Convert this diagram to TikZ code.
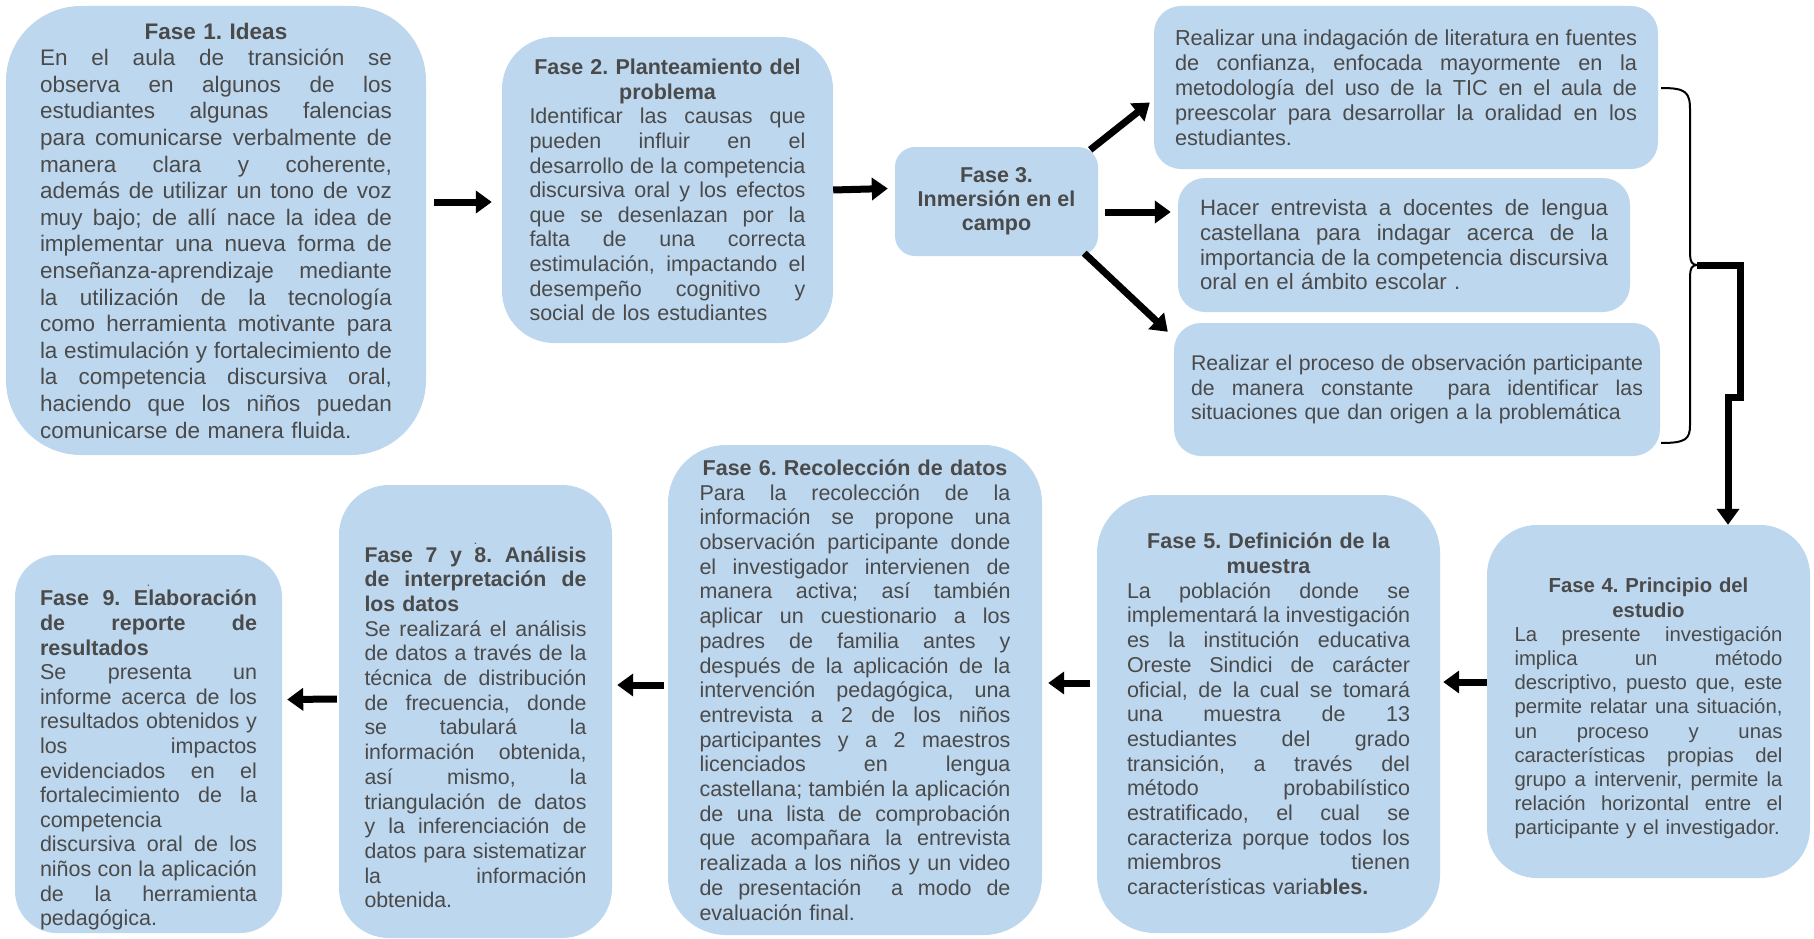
\documentclass[tikz,border=0pt]{standalone}
\usepackage{fontspec}
\setmainfont{Liberation Sans}
\usetikzlibrary{arrows.meta,calc}
\frenchspacing

\definecolor{azulfase}{HTML}{BDD7EE}
\definecolor{grisfase}{HTML}{4A4A4A}

% one justified line, one centred bold line
\newcommand{\renglon}[1]{\makebox[\linewidth][s]{\spaceskip=0.278em plus 1fil\relax #1}\\}
\newcommand{\titulo}[1]{\makebox[\linewidth]{\bfseries #1}\\}

\tikzset{
  fase/.style={fill=azulfase, text=grisfase, rounded corners=#1, inner sep=0pt,
    align=left, font=\fontsize{21.5}{24.7}\selectfont},
  fase/.default=48pt,
  flecha/.style={line width=7pt, -{Triangle[width=22pt,length=16pt]}},
  corchete/.style={line width=2pt},
}

\begin{document}
\begin{tikzpicture}[x=1pt,y=-1pt]
\useasboundingbox (0,0) rectangle (1814,939);

% Upper row
\node[fase=75pt, minimum width=420pt, minimum height=449pt, text width=352pt,
  font=\fontsize{22.5}{26.6}\selectfont] (f1) at (216,230.5) {
\titulo{Fase 1. Ideas}
\renglon{En el aula de transición se}
\renglon{observa en algunos de los}
\renglon{estudiantes algunas falencias}
\renglon{para comunicarse verbalmente de}
\renglon{manera clara y coherente,}
\renglon{además de utilizar un tono de voz}
\renglon{muy bajo; de allí nace la idea de}
\renglon{implementar una nueva forma de}
\renglon{enseñanza-aprendizaje mediante}
\renglon{la utilización de la tecnología}
\renglon{como herramienta motivante para}
\renglon{la estimulación y fortalecimiento de}
\renglon{la competencia discursiva oral,}
\renglon{haciendo que los niños puedan}
comunicarse de manera fluida.};

\node[fase=52pt, minimum width=331pt, minimum height=306pt, text width=276pt,
  font=\fontsize{21.5}{24.6}\selectfont] (f2) at (667.5,190) {
\titulo{Fase 2. Planteamiento del}
\titulo{problema}
\renglon{Identificar las causas que}
\renglon{pueden influir en el}
\renglon{desarrollo de la competencia}
\renglon{discursiva oral y los efectos}
\renglon{que se desenlazan por la}
\renglon{falta de una correcta}
\renglon{estimulación, impactando el}
\renglon{desempeño cognitivo y}
social de los estudiantes};

\node[fase=20pt, align=center, minimum width=203pt, minimum height=109pt,
  font=\bfseries\fontsize{21.5}{24}\selectfont] (f3) at (996.5,201.5)
  {Fase 3.\\Inmersión en el\\campo};

% Activities of phase 3
\node[fase=27pt, minimum width=504pt, minimum height=163pt, text width=462pt,
  font=\fontsize{21.7}{25}\selectfont] (fa) at (1406,87.5) {
\renglon{Realizar una indagación de literatura en fuentes}
\renglon{de confianza, enfocada mayormente en la}
\renglon{metodología del uso de la TIC en el aula de}
\renglon{preescolar para desarrollar la oralidad en los}
estudiantes.};

\node[fase=27pt, minimum width=452pt, minimum height=134pt, text width=408pt,
  font=\fontsize{22.2}{24.7}\selectfont] (fb) at (1404,245) {
\renglon{Hacer entrevista a docentes de lengua}
\renglon{castellana para indagar acerca de la}
\renglon{importancia de la competencia discursiva}
oral en el ámbito escolar .};

\node[fase=27pt, minimum width=486pt, minimum height=133pt, text width=452pt,
  font=\fontsize{21.3}{24.5}\selectfont] (fc) at (1417,389.5) {
\renglon{Realizar el proceso de observación participante}
\renglon{de manera constante\ \ para identificar las}
situaciones que dan origen a la problemática};

% Lower row
\node[fase=50pt, minimum width=323pt, minimum height=353pt, text width=268pt,
  font=\fontsize{20.3}{24.2}\selectfont] (f4) at (1648.5,701.5) {
\titulo{\rule{0pt}{29pt}Fase 4. Principio del}
\titulo{estudio}
\renglon{La presente investigación}
\renglon{implica un método}
\renglon{descriptivo, puesto que, este}
\renglon{permite relatar una situación,}
\renglon{un proceso y unas}
\renglon{características propias del}
\renglon{grupo a intervenir, permite la}
\renglon{relación horizontal entre el}
participante y el investigador.};

\node[fase=58pt, minimum width=343pt, minimum height=438pt, text width=283pt]
  (f5) at (1268.5,714) {
\titulo{Fase 5. Definición de la}
\titulo{muestra}
\renglon{La población donde se}
\renglon{implementará la investigación}
\renglon{es la institución educativa}
\renglon{Oreste Sindici de carácter}
\renglon{oficial, de la cual se tomará}
\renglon{una muestra de 13}
\renglon{estudiantes del grado}
\renglon{transición, a través del}
\renglon{método probabilístico}
\renglon{estratificado, el cual se}
\renglon{caracteriza porque todos los}
\renglon{miembros tienen}
características varia\textbf{bles.}};

\node[fase=58pt, minimum width=374pt, minimum height=490pt, text width=311pt]
  (f6) at (855,690) {
\titulo{Fase 6. Recolección de datos}
\renglon{Para la recolección de la}
\renglon{información se propone una}
\renglon{observación participante donde}
\renglon{el investigador intervienen de}
\renglon{manera activa; así también}
\renglon{aplicar un cuestionario a los}
\renglon{padres de familia antes y}
\renglon{después de la aplicación de la}
\renglon{intervención pedagógica, una}
\renglon{entrevista a 2 de los niños}
\renglon{participantes y a 2 maestros}
\renglon{licenciados en lengua}
\renglon{castellana; también la aplicación}
\renglon{de una lista de comprobación}
\renglon{que acompañara la entrevista}
\renglon{realizada a los niños y un video}
\renglon{de presentación\ \ a modo de}
evaluación final.};

\node[fase=50pt, minimum width=273pt, minimum height=453pt, text width=222pt,
  font=\fontsize{21.3}{24.7}\selectfont] (f7) at (475.5,711.5) {
\makebox[\linewidth]{\rule{0pt}{29pt}\fontsize{12}{14}\selectfont .}\\[-6.7pt]
\renglon{\bfseries Fase 7 y 8. Análisis}
\renglon{\bfseries de interpretación de}
{\bfseries los datos}\\
\renglon{Se realizará el análisis}
\renglon{de datos a través de la}
\renglon{técnica de distribución}
\renglon{de frecuencia, donde}
\renglon{se tabulará la}
\renglon{información obtenida,}
\renglon{así mismo, la}
\renglon{triangulación de datos}
\renglon{y la inferenciación de}
\renglon{datos para sistematizar}
\renglon{la información}
obtenida.};

\node[fase=42pt, minimum width=267pt, minimum height=378pt, text width=217pt,
  font=\fontsize{21.5}{24.6}\selectfont] (f9) at (148.5,744) {
\makebox[\linewidth]{\rule{0pt}{29pt}\fontsize{12}{14}\selectfont .}\\[-5.7pt]
\renglon{\bfseries Fase 9. Elaboración}
\renglon{\bfseries de reporte de}
{\bfseries resultados}\\
\renglon{Se presenta un}
\renglon{informe acerca de los}
\renglon{resultados obtenidos y}
\renglon{los impactos}
\renglon{evidenciados en el}
\renglon{fortalecimiento de la}
competencia\\
\renglon{discursiva oral de los}
\renglon{niños con la aplicación}
\renglon{de la herramienta}
pedagógica.};

% Arrows between phases
\draw[flecha] ($(f1.east)+(8,-28.5)$) -- ($(f2.west)+(-10,12)$);
\draw[flecha] (f2.east) -- ($(f3.west)+(-7,-13)$);
\draw[flecha] ($(f3.north east)+(-8,3)$) -- ($(fa.west)+(-4,15)$);
\draw[flecha] ($(f3.east)+(7,10.5)$) -- ($(fb.west)+(-7,-33)$);
\draw[flecha] ($(f3.south east)+(-14,-3)$) -- ($(fc.north west)+(-6,9)$);

\draw[flecha] ($(f4.west)+(0,-19.5)$) -- ($(f5.east)+(3,-32)$);
\draw[flecha] ($(f5.west)+(-7,-31)$) -- ($(f6.east)+(6,-7)$);
\draw[flecha] ($(f6.west)+(-4,-5)$) -- ($(f7.east)+(5,-26.5)$);
\draw[flecha] ($(f7.west)+(-2,-12.5)$) -- ($(f9.east)+(5,-44.5)$);

% Brace and the way down to phase 4
\coordinate (punta) at (1697,265);
\coordinate (quiebre) at (1728,397);
\draw[corchete] (1661,88) .. controls (1686,88) and (1690,92) .. (1690,110)
  -- (1690,252) .. controls (1690,262) and (1692,265) .. (punta)
  .. controls (1692,265) and (1690,268) .. (1690,278)
  -- (1690,425) .. controls (1690,439) and (1686,443) .. (1661,443);
\draw[flecha] (punta) -- ++(43,0) |- (quiebre) -- (quiebre |- f4.north);
\end{tikzpicture}
\end{document}
